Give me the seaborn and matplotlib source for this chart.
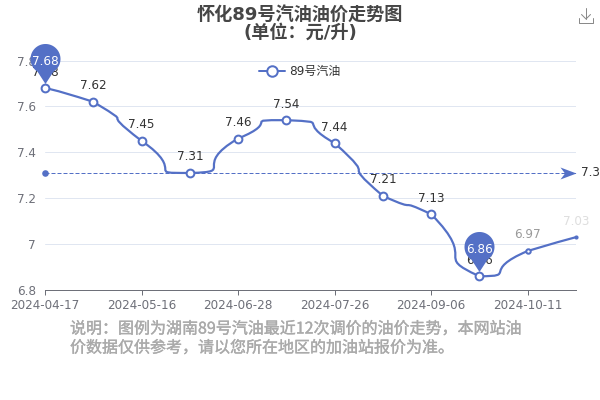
import matplotlib
matplotlib.use("Agg")
import matplotlib.pyplot as plt
import matplotlib.patheffects as pe
import numpy as np
import pandas as pd
import seaborn as sns
from matplotlib.lines import Line2D
from matplotlib.patches import PathPatch
from matplotlib.path import Path

# Values
dates = ["2024-04-17", "2024-04-30", "2024-05-16", "2024-05-30", "2024-06-28", "2024-07-11",
         "2024-07-26", "2024-08-23", "2024-09-06", "2024-09-20", "2024-10-11", "2024-10-25"]
prices = [7.68, 7.62, 7.45, 7.31, 7.46, 7.54, 7.44, 7.21, 7.13, 6.86, 6.97, 7.03]
y_ticks = [6.8, 7, 7.2, 7.4, 7.6, 7.8]
y_tick_labels = ["6.8", "7", "7.2", "7.4", "7.6", "7.8"]
series_name = "89号汽油"
title_lines = ["怀化89号汽油油价走势图", "(单位：元/升)"]
note_lines = ["说明：图例为湖南89号汽油最近12次调价的油价走势，本网站油",
              "价数据仅供参考，请以您所在地区的加油站报价为准。"]

BLUE = "#5470c6"
PX = 72 / 100  # one pixel in points at dpi 100

sns.set_theme(style="white")
plt.rcParams["font.family"] = ["DejaVu Sans", "Noto Sans CJK SC"]

df = pd.DataFrame({"date": dates, "price": prices})
df["i"] = range(len(df))
mean_price = round(df["price"].mean(), 2)

fig = plt.figure(figsize=(6, 4), dpi=100)
ax = fig.add_axes([45 / 600, 110 / 400, 531 / 600, 229.5 / 400])
ax.set_xlim(0, len(df) - 1)
ax.set_ylim(6.8, 7.8)

# grid and axes
ax.set_yticks(y_ticks, y_tick_labels)
ax.set_xticks(df["i"][::2], df["date"][::2])
ax.yaxis.grid(True, color="#E0E6F1", lw=1 * PX)
ax.xaxis.grid(False)
ax.set_axisbelow(True)
sns.despine(ax=ax, left=True, top=True, right=True)
ax.spines["bottom"].set_color("#6E7079")
ax.spines["bottom"].set_linewidth(1 * PX)
ax.tick_params(axis="y", length=0, pad=6.5, labelsize=12 * PX, labelcolor="#6E7079")
ax.tick_params(axis="x", bottom=True, length=5 * PX, width=1 * PX, color="#6E7079", pad=3,
               labelsize=12 * PX, labelcolor="#6E7079")


# echarts style smooth line with the control points clamped to the neighbours
def smooth_path(xs, ys, smooth=1.0):
    sx = 531 / (len(xs) - 1)
    sy = 229.5
    n = len(xs)
    verts = [(xs[0], ys[0])]
    codes = [Path.MOVETO]
    cp_out = [(xs[0], ys[0])]
    cp_in = [(xs[0], ys[0])]
    for k in range(1, n - 1):
        vx = xs[k + 1] - xs[k - 1]
        vy = ys[k + 1] - ys[k - 1]
        d0 = np.hypot((xs[k] - xs[k - 1]) * sx, (ys[k] - ys[k - 1]) * sy)
        d1 = np.hypot((xs[k + 1] - xs[k]) * sx, (ys[k + 1] - ys[k]) * sy)
        r = d1 / (d0 + d1)
        ox = np.clip(xs[k] + vx * smooth * r, xs[k], xs[k + 1])
        oy = ys[k] + vy * smooth * r
        oy = np.clip(oy, min(ys[k], ys[k + 1]), max(ys[k], ys[k + 1]))
        ix = np.clip(xs[k] - vx * smooth * (1 - r), xs[k - 1], xs[k])
        iy = ys[k] - vy * smooth * (1 - r)
        iy = np.clip(iy, min(ys[k], ys[k - 1]), max(ys[k], ys[k - 1]))
        cp_out.append((ox, oy))
        cp_in.append((ix, iy))
    cp_out.append((xs[-1], ys[-1]))
    cp_in.append((xs[-1], ys[-1]))
    for k in range(1, n):
        verts += [cp_out[k - 1], cp_in[k], (xs[k], ys[k])]
        codes += [Path.CURVE4, Path.CURVE4, Path.CURVE4]
    return Path(verts, codes)


ax.add_patch(PathPatch(smooth_path(df["i"].to_numpy(), df["price"].to_numpy()),
                       fc="none", ec=BLUE, lw=2.2 * PX, zorder=3, clip_on=False))

# mean line with dot and arrow
ax.plot([0, len(df) - 1], [mean_price, mean_price], color=BLUE, lw=1 * PX, ls=(0, (4, 2)), zorder=2.5)
ax.plot([0], [mean_price], marker="o", ms=6 * PX * 1.1, color=BLUE, mew=0, clip_on=False, zorder=3)
arrow = Path([(0, 0), (-16, 6), (-11.5, 0), (-16, -6), (0, 0)],
             [Path.MOVETO, Path.LINETO, Path.LINETO, Path.LINETO, Path.CLOSEPOLY])
ax.plot([len(df) - 1], [mean_price], marker=arrow, ms=32 * PX, color=BLUE, mew=0, clip_on=False, zorder=3)
ax.annotate(str(mean_price), (len(df) - 1, mean_price), xytext=(5 * PX, 0), textcoords="offset points",
            fontsize=12 * PX, color="#333333", va="center", ha="left", annotation_clip=False)

# point markers
main = df.iloc[:10]
sns.scatterplot(data=main, x="i", y="price", s=(5.6) ** 2, color="white", edgecolor=BLUE, linewidth=2 * PX,
                ax=ax, clip_on=False, zorder=4, legend=False)
sns.scatterplot(data=df.iloc[[10]], x="i", y="price", s=(3.2) ** 2, color="white", edgecolor=BLUE,
                linewidth=2 * PX, ax=ax, clip_on=False, zorder=4, legend=False)
sns.scatterplot(data=df.iloc[[11]], x="i", y="price", s=(3.0) ** 2, color=BLUE, edgecolor=BLUE,
                linewidth=0, ax=ax, clip_on=False, zorder=4, legend=False)
ax.set_xlabel("")
ax.set_ylabel("")

# value labels, the last two are still fading in
label_colors = ["#333333"] * 10 + ["#9a9a9a", "#dedede"]
for i, v, c in zip(df["i"], df["price"], label_colors):
    ax.annotate(f"{v:g}", (i, v), xytext=(0, 16 * PX), textcoords="offset points", ha="center", va="center",
                fontsize=12 * PX, color=c, annotation_clip=False, zorder=4.5)

# max / min pins, marker origin sits on the data point
b = np.radians(32)
t = np.linspace(np.pi - b, -(np.pi - b), 60)
pin_verts = [(0, 4.5)] + [(15 * np.sin(a), 29.5 + 15 * np.cos(a)) for a in t] + [(0, 4.5)]
pin = Path(pin_verts)
for idx in [df["price"].idxmax(), df["price"].idxmin()]:
    ax.plot([df["i"][idx]], [df["price"][idx]], marker=pin, ms=89 * PX, color=BLUE, mew=0, clip_on=False, zorder=5)
    ax.annotate(f"{df['price'][idx]:g}", (df["i"][idx], df["price"][idx]), xytext=(0, 27 * PX),
                textcoords="offset points", ha="center", va="center", fontsize=12 * PX, color="white",
                annotation_clip=False, zorder=6)

# legend
handle = Line2D([], [], color=BLUE, lw=2 * PX, marker="o", ms=10.5 * PX, mfc="white", mec=BLUE, mew=2 * PX)
fig.legend([handle], [series_name], loc="center left", bbox_to_anchor=(251 / 600, 1 - 71.5 / 400), frameon=False,
           fontsize=12 * PX, labelcolor="#333333", handlelength=2.15, handletextpad=0.35, borderpad=0.2)

# titles and note
fig.text(0.5, 1 - 16 / 400, title_lines[0], ha="center", va="center", fontsize=18.2 * PX, fontweight="bold", color="#464646")
fig.text(0.5, 1 - 33 / 400, title_lines[1], ha="center", va="center", fontsize=18.2 * PX, fontweight="bold", color="#464646")
cjk = ["Noto Sans CJK SC", "DejaVu Sans"]
bolder = [pe.withStroke(linewidth=0.25, foreground="#aaaaaa")]
fig.text(70 / 600, 1 - 329 / 400, note_lines[0], ha="left", va="center", fontsize=16 * PX, color="#aaaaaa",
         family=cjk, path_effects=bolder)
fig.text(70 / 600, 1 - 348 / 400, note_lines[1], ha="left", va="center", fontsize=16 * PX, color="#aaaaaa",
         family=cjk, path_effects=bolder)

# download icon
icon = [([579, 579, 593, 593], [18, 22.5, 22.5, 18]), ([586, 586], [8, 19]), ([581.5, 586, 590.5], [14.5, 19, 14.5])]
for xs, ys in icon:
    fig.add_artist(Line2D(np.array(xs) / 600, 1 - np.array(ys) / 400, color="#8a8a8a", lw=1 * PX))

fig.savefig("out.png", dpi=100)
